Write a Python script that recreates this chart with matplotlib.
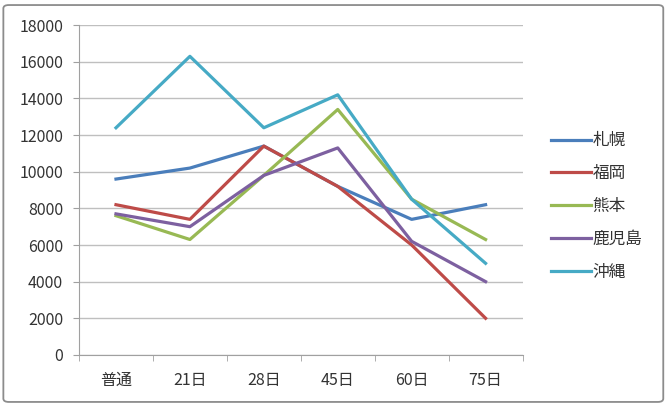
import matplotlib
matplotlib.use("Agg")
import matplotlib.pyplot as plt
from matplotlib.patches import FancyBboxPatch

plt.rcParams['font.family'] = ['Noto Sans CJK JP', 'DejaVu Sans']

# data
categories = ["普通", "21日", "28日", "45日", "60日", "75日"]
sapporo = [9600, 10200, 11400, 9200, 7400, 8200]
fukuoka = [8200, 7400, 11400, 9200, 6000, 2000]
kumamoto = [7600, 6300, 9800, 13400, 8500, 6300]
kagoshima = [7700, 7000, 9800, 11300, 6200, 4000]
okinawa = [12400, 16300, 12400, 14200, 8500, 5000]

series = [
    ("札幌", sapporo, "#4A7EBB"),
    ("福岡", fukuoka, "#BE4B48"),
    ("熊本", kumamoto, "#98B954"),
    ("鹿児島", kagoshima, "#7D60A0"),
    ("沖縄", okinawa, "#46AAC5"),
]

fig = plt.figure(figsize=(6.72, 4.2), dpi=100)
# outer chart border
fig.patches.append(FancyBboxPatch((0.005, 0.043), 0.982, 0.945,
                                  boxstyle="round,pad=0,rounding_size=0.008",
                                  transform=fig.transFigure, fill=False,
                                  edgecolor="#8c8c8c", linewidth=1.3))

ax = fig.add_axes([0.1176, 0.155, 0.66, 0.785])
x = list(range(len(categories)))
for name, vals, color in series:
    ax.plot(x, vals, color=color, linewidth=2.3, label=name)

ax.set_xlim(-0.5, len(categories) - 0.5)
ax.set_ylim(0, 18000)
ax.set_yticks(range(0, 18001, 2000))
ax.yaxis.grid(True, color="#bfbfbf", linewidth=1)
ax.set_axisbelow(True)

ax.set_xticks(x)
ax.set_xticklabels(categories)
ax.tick_params(axis='x', length=0, pad=12, labelsize=11.5, colors="#333333")
ax.set_xticks([i - 0.5 for i in range(len(categories) + 1)], minor=True)
ax.tick_params(axis='x', which='minor', length=4, color="#a0a0a0", direction='out')
ax.tick_params(axis='y', length=4.5, pad=7, labelsize=11.5, colors="#333333")
ax.tick_params(axis='y', color="#a0a0a0")

for s in ['top', 'right']:
    ax.spines[s].set_visible(False)
ax.spines['left'].set_color("#a0a0a0")
ax.spines['bottom'].set_color("#a0a0a0")

leg = ax.legend(loc='center left', bbox_to_anchor=(1.03, 0.45), frameon=False,
                fontsize=12, handlelength=2.4, handletextpad=0.1,
                labelspacing=0.95)
for t in leg.get_texts():
    t.set_color("#333333")

fig.savefig("out.png", dpi=100)
